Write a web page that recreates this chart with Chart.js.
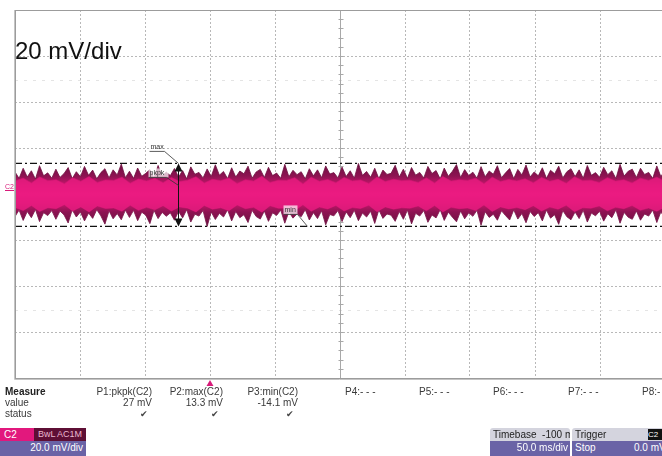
<!DOCTYPE html>
<html>
<head>
<meta charset="utf-8">
<script src="https://cdn.jsdelivr.net/npm/chart.js@4.4.1/dist/chart.umd.min.js"></script>
<style>
  html, body { margin: 0; padding: 0; background: #fff; overflow: hidden; }
  #wrap { position: relative; width: 662px; height: 456px; overflow: hidden; font-family: "Liberation Sans", Arial, sans-serif; }
  #scope { position: absolute; left: 0; top: 0; }
  .t { position: absolute; white-space: nowrap; color: #3a3a3a; font-size: 10px; line-height: 10px; }
  .box { position: absolute; font-size: 10px; line-height: 13px; white-space: nowrap; overflow: hidden; }
</style>
</head>
<body>
<div id="wrap">
  <canvas id="scope" width="680" height="456"></canvas>
  <div class="t" style="left:15px;top:39px;font-size:24px;line-height:24px;color:#111;">20 mV/div</div>
  <div class="t" style="left:5px;top:183px;font-size:7px;line-height:7px;color:#d81b7a;border-bottom:1px solid #d81b7a;">C2</div>
  <div id="table"></div>
</div>
<script>
// time axis (ms) and voltage axis (mV), 50 ms/div and 20 mV/div
const timeRange = [-150, 350];
const voltRange = [-80, 80];
const timeStep = 50;
const voltStep = 20;

// noise envelope of C2 (mV)
const upperEnv = [
  9.6, 6.8, 11.2, 7.4, 10.1, 6.5, 12.3, 7.9, 9.2, 6.9,
  10.8, 7.2, 8.9, 11.5, 6.7, 9.7, 7.5, 12.0, 8.1, 10.4,
  6.6, 9.3, 11.0, 7.0, 10.5, 8.3, 13.0, 7.1, 9.9, 6.8,
  11.3, 7.7, 9.0, 10.6, 6.9, 12.4, 7.8, 9.5, 8.0, 11.1,
  7.3, 10.2, 6.6, 11.8, 8.6, 9.4, 7.0, 10.9, 7.6, 12.7,
  8.2, 9.8, 6.7, 11.4, 7.4, 10.0, 8.8, 12.1, 6.9, 9.6,
  10.7, 7.2, 11.6, 8.0, 9.1, 6.8, 12.9, 7.5, 10.3, 8.4,
  9.7, 6.6, 11.0, 7.9, 10.5, 7.1, 12.2, 8.7, 9.3, 7.0,
  11.7, 7.6, 10.1, 6.9, 13.3, 8.1, 9.8, 7.3, 11.2, 6.7,
  10.4, 8.5, 9.0, 12.5, 7.4, 10.8, 6.8, 11.5, 8.2, 9.4,
  7.0, 12.0, 8.9, 10.2, 6.6, 11.3, 7.7, 9.9, 12.8, 7.2,
  10.6, 8.0, 9.5, 6.9, 11.9, 7.5, 10.0, 8.6, 12.3, 7.1,
  9.2, 11.1, 6.7, 10.7, 8.3, 12.6, 7.4, 9.6, 7.9, 11.4,
  6.8, 10.3, 8.8, 12.1, 7.0, 9.7, 11.0, 7.6, 10.5, 6.9,
  12.4, 8.1, 9.3, 7.3, 11.6, 8.4, 10.1, 6.7, 12.9, 7.8,
  9.9, 10.8, 7.2, 11.2, 8.5, 9.4, 6.8, 12.2, 7.5, 10.6
];
const lowerEnv = [
  -9.8, -7.0, -11.5, -7.6, -10.3, -6.7, -12.0, -8.1, -9.4, -7.2,
  -11.0, -7.4, -9.1, -12.6, -6.9, -10.0, -7.8, -11.7, -8.3, -10.6,
  -6.8, -9.5, -13.1, -7.3, -10.8, -8.5, -11.2, -7.0, -10.2, -7.1,
  -11.6, -7.9, -9.2, -12.9, -7.1, -10.7, -8.0, -9.7, -8.2, -11.4,
  -7.5, -10.4, -6.8, -12.2, -8.8, -9.6, -7.2, -14.1, -7.8, -11.1,
  -8.4, -10.0, -6.9, -11.7, -7.6, -10.3, -9.0, -12.4, -7.1, -9.8,
  -10.9, -7.4, -11.9, -8.2, -9.3, -7.0, -12.7, -7.7, -10.5, -8.6,
  -9.9, -6.8, -11.3, -8.1, -10.7, -7.3, -13.4, -8.9, -9.5, -7.2,
  -12.0, -7.8, -10.3, -7.1, -11.6, -8.3, -10.0, -7.5, -12.8, -6.9,
  -10.6, -8.7, -9.2, -11.9, -7.6, -11.0, -7.0, -13.0, -8.4, -9.6,
  -7.2, -12.3, -9.1, -10.4, -6.8, -11.5, -7.9, -10.1, -12.1, -7.4,
  -10.8, -8.2, -9.7, -7.1, -13.6, -7.7, -10.2, -8.8, -11.4, -7.3,
  -9.4, -11.3, -6.9, -10.9, -8.5, -12.5, -7.6, -9.8, -8.1, -11.7,
  -7.0, -10.5, -9.0, -13.2, -7.2, -9.9, -11.2, -7.8, -10.7, -7.1,
  -12.2, -8.3, -9.5, -7.5, -11.8, -8.6, -10.3, -6.9, -12.7, -8.0,
  -10.1, -11.0, -7.4, -11.4, -8.7, -9.6, -7.0, -12.4, -7.7, -10.8
];
// bright dense core of the trace (mV)
const innerUpper = [
  5.6, 6.9, 4.8, 7.4, 5.8, 6.2, 4.5, 7.1, 5.5, 7.6, 5.0, 6.1, 5.9, 7.3, 4.7, 6.5, 5.7, 6.8, 4.9, 7.2,
  5.4, 6.0, 7.5, 4.8, 6.4, 5.8, 7.0, 4.6, 6.2, 5.6, 7.7, 5.0, 6.0, 5.9, 7.1, 4.4, 7.3, 5.5, 6.3, 4.9,
  7.2, 5.7, 6.1, 4.6, 7.4, 5.4, 6.4, 5.8, 6.0, 5.0, 7.0, 4.8, 7.6, 5.6, 6.2, 5.9, 6.9, 4.5, 7.3, 5.4,
  6.3, 5.7, 6.6, 4.9, 7.2, 5.5, 6.4, 4.7, 7.5, 5.8, 6.0, 5.0, 7.1, 5.6, 6.2, 4.8, 6.9, 5.9, 7.3, 5.4
];
const innerLower = [
  -5.9, -7.2, -5.0, -7.6, -6.0, -6.4, -4.7, -7.4, -5.6, -7.8, -5.2, -6.3, -6.1, -7.5, -4.9, -7.1, -5.8, -6.9, -5.1, -7.4,
  -5.6, -6.2, -7.8, -5.0, -6.6, -6.0, -7.3, -4.8, -6.4, -5.8, -7.9, -5.1, -6.2, -6.1, -7.2, -4.7, -7.5, -5.7, -6.5, -5.0,
  -7.4, -5.9, -6.3, -4.9, -7.7, -5.6, -6.6, -6.0, -6.2, -5.2, -7.3, -5.0, -7.8, -5.8, -6.4, -6.1, -7.2, -4.8, -7.6, -5.6,
  -6.5, -5.9, -6.8, -5.1, -7.4, -5.7, -6.6, -4.9, -7.7, -6.0, -6.2, -5.2, -7.3, -5.8, -6.4, -5.0, -7.1, -6.1, -7.5, -5.6
];

// cursors and measurements
const maxMin = [13.3, -14.1];
const pkpkTime = -25;
const minMarkTime = 75;
const triggerTime = 0;
const measureNames = ['P1:pkpk(C2)', 'P2:max(C2)', 'P3:min(C2)', 'P4:- - -', 'P5:- - -', 'P6:- - -', 'P7:- - -', 'P8:- -'];
const measureValues = ['27 mV', '13.3 mV', '-14.1 mV'];

function spread(values) {
  // place samples evenly along the sweep
  const span = timeRange[1] - timeRange[0];
  return values.map((v, i) => ({ x: timeRange[0] + span * i / (values.length - 1), y: v }));
}

// dark fringes, bright centre
function traceGradient(context) {
  const chart = context.chart;
  if (!chart.chartArea) return '#b0145f';
  const y = chart.scales.y;
  const top = y.getPixelForValue(14);
  const bot = y.getPixelForValue(-14);
  const g = chart.ctx.createLinearGradient(0, top, 0, bot);
  g.addColorStop(0, '#6a0f3e');
  g.addColorStop(0.22, '#8d1352');
  g.addColorStop(0.36, '#c8166c');
  g.addColorStop(0.5, '#e8197f');
  g.addColorStop(0.64, '#c8166c');
  g.addColorStop(0.78, '#8d1352');
  g.addColorStop(1, '#6a0f3e');
  return g;
}

const scopePlugin = {
  id: 'scopeDecor',
  beforeDatasetsDraw(chart) {
    const { ctx, chartArea: a, scales: { x, y } } = chart;
    ctx.save();
    // faint ghost lines
    ctx.strokeStyle = '#e4e4e4';
    ctx.setLineDash([3, 6]);
    [50, -50].forEach(v => {
      const py = Math.round(y.getPixelForValue(v)) + 1.5;
      ctx.beginPath(); ctx.moveTo(a.left, py); ctx.lineTo(a.right, py); ctx.stroke();
    });
    // solid centre cross with minor ticks
    ctx.setLineDash([]);
    ctx.strokeStyle = '#a8a8a8';
    const cx = Math.round(x.getPixelForValue(100)) + 0.5;
    const cy = Math.round(y.getPixelForValue(0)) + 0.5;
    ctx.beginPath(); ctx.moveTo(cx, a.top); ctx.lineTo(cx, a.bottom); ctx.stroke();
    for (let v = voltRange[0]; v <= voltRange[1]; v += voltStep / 5) {
      const py = Math.round(y.getPixelForValue(v)) + 0.5;
      ctx.beginPath(); ctx.moveTo(cx - 2, py); ctx.lineTo(cx + 3, py); ctx.stroke();
    }
    for (let t = timeRange[0]; t <= timeRange[1]; t += timeStep / 5) {
      const px = Math.round(x.getPixelForValue(t)) + 0.5;
      ctx.beginPath(); ctx.moveTo(px, cy - 2); ctx.lineTo(px, cy + 3); ctx.stroke();
    }
    ctx.restore();
  },
  afterDatasetsDraw(chart) {
    const { ctx, chartArea: a, scales: { x, y } } = chart;
    ctx.save();
    // frame
    ctx.strokeStyle = '#9c9c9c';
    ctx.lineWidth = 1;
    ctx.strokeRect(a.left + 0.5, a.top + 0.5, a.right - a.left, a.bottom - a.top);
    ctx.strokeStyle = '#c4c4c4';
    ctx.beginPath(); ctx.moveTo(a.left - 0.5, a.top); ctx.lineTo(a.left - 0.5, a.bottom + 1.5); ctx.lineTo(a.right, a.bottom + 1.5); ctx.stroke();

    // pkpk cursor with arrows
    const px = Math.round(x.getPixelForValue(pkpkTime)) + 0.5;
    const yTop = y.getPixelForValue(maxMin[0]);
    const yBot = y.getPixelForValue(maxMin[1]);
    ctx.strokeStyle = '#111';
    ctx.fillStyle = '#111';
    ctx.beginPath(); ctx.moveTo(px, yTop + 4); ctx.lineTo(px, yBot - 4); ctx.stroke();
    ctx.beginPath(); ctx.moveTo(px, yTop); ctx.lineTo(px - 4, yTop + 8); ctx.lineTo(px + 4, yTop + 8); ctx.closePath(); ctx.fill();
    ctx.beginPath(); ctx.moveTo(px, yBot); ctx.lineTo(px - 4, yBot - 8); ctx.lineTo(px + 4, yBot - 8); ctx.closePath(); ctx.fill();

    ctx.font = '7px "Liberation Sans", Arial, sans-serif';
    ctx.textBaseline = 'alphabetic';
    ctx.lineWidth = 0.8;
    // max label
    ctx.fillStyle = '#333';
    ctx.fillText('max', px - 28, yTop - 14);
    ctx.strokeStyle = '#333';
    ctx.beginPath(); ctx.moveTo(px - 29, yTop - 12); ctx.lineTo(px - 14, yTop - 12); ctx.lineTo(px, yTop); ctx.stroke();
    // pkpk label
    ctx.fillStyle = 'rgba(255,255,255,0.7)';
    ctx.fillRect(px - 30, yTop + 5, 20, 9);
    ctx.fillStyle = '#333';
    ctx.fillText('pkpk', px - 29, yTop + 12);
    ctx.beginPath(); ctx.moveTo(px - 30, yTop + 14); ctx.lineTo(px - 12, yTop + 14); ctx.lineTo(px, yTop + 22); ctx.stroke();
    // min label
    const mx = x.getPixelForValue(minMarkTime);
    ctx.fillStyle = 'rgba(255,255,255,0.7)';
    ctx.fillRect(mx - 24, yBot - 21, 14, 9);
    ctx.fillStyle = '#333';
    ctx.fillText('min', mx - 23, yBot - 14);
    ctx.beginPath(); ctx.moveTo(mx - 24, yBot - 12); ctx.lineTo(mx - 10, yBot - 12); ctx.lineTo(mx, yBot); ctx.stroke();

    // trigger marker
    const tx = x.getPixelForValue(triggerTime);
    ctx.fillStyle = '#d81b7a';
    ctx.beginPath(); ctx.moveTo(tx, a.bottom + 2); ctx.lineTo(tx - 3.5, a.bottom + 8); ctx.lineTo(tx + 3.5, a.bottom + 8); ctx.closePath(); ctx.fill();
    ctx.restore();
  }
};

const ctx = document.getElementById('scope').getContext('2d');
new Chart(ctx, {
  type: 'line',
  data: {
    datasets: [
      { data: spread(upperEnv), borderColor: '#6e0f40', backgroundColor: traceGradient, borderWidth: 0.8, fill: '+1', order: 3 },
      { data: spread(lowerEnv), borderColor: '#6e0f40', borderWidth: 0.8, fill: false, order: 3 },
      { data: spread(innerUpper), borderColor: 'rgba(214,22,116,0.6)', backgroundColor: 'rgba(236,27,130,0.8)', borderWidth: 1, fill: '+1', order: 2 },
      { data: spread(innerLower), borderColor: 'rgba(214,22,116,0.6)', borderWidth: 1, fill: false, order: 2 },
      { data: timeRange.map(t => ({ x: t, y: maxMin[0] })), borderColor: '#111', borderWidth: 1.3, borderDash: [7, 3, 2, 3], fill: false, order: 1 },
      { data: timeRange.map(t => ({ x: t, y: maxMin[1] })), borderColor: '#111', borderWidth: 1.3, borderDash: [7, 3, 2, 3], fill: false, order: 1 }
    ]
  },
  options: {
    responsive: false,
    animation: false,
    layout: { padding: { left: 15, right: 15, top: 10, bottom: 78 } },
    elements: { point: { radius: 0 }, line: { tension: 0 } },
    plugins: { legend: { display: false }, tooltip: { enabled: false } },
    scales: {
      x: {
        type: 'linear', min: timeRange[0], max: timeRange[1],
        ticks: { display: false, stepSize: timeStep },
        grid: { color: '#b8b8b8', drawTicks: false },
        border: { display: false, dash: [2, 2] }
      },
      y: {
        type: 'linear', min: voltRange[0], max: voltRange[1],
        ticks: { display: false, stepSize: voltStep },
        grid: { color: '#b8b8b8', drawTicks: false },
        border: { display: false, dash: [2, 2] }
      }
    }
  },
  plugins: [scopePlugin]
});

// measurement table under the grid
const table = document.getElementById('table');
function addText(txt, left, top, style) {
  const d = document.createElement('div');
  d.className = 't';
  d.textContent = txt;
  d.style.left = left + 'px';
  d.style.top = top + 'px';
  if (style) Object.assign(d.style, style);
  table.appendChild(d);
  return d;
}
addText('Measure', 5, 387, { fontWeight: 'bold', color: '#222' });
addText('value', 5, 398);
addText('status', 5, 409);
const colRight = [152, 223, 298, 375, 449, 523, 598, 672];
measureNames.forEach((name, i) => {
  const d = addText(name, colRight[i] - 70, 387, { width: '70px', textAlign: i < 3 ? 'right' : 'left' });
  if (i >= 3) { d.style.left = (colRight[i] - 30) + 'px'; d.style.width = 'auto'; }
});
measureValues.forEach((v, i) => {
  addText(v, colRight[i] - 70, 398, { width: '70px', textAlign: 'right' });
  addText('\u2714', colRight[i] - 12, 409, { color: '#444', fontSize: '9px' });
});

// channel and timebase boxes
table.insertAdjacentHTML('beforeend',
  '<div class="box" style="left:0;top:428px;width:86px;height:13px;background:#e2187d;color:#fff;"><span style="padding-left:4px;">C2</span>' +
  '<span style="position:absolute;left:34px;top:0;width:52px;height:13px;background:#5e0f35;color:#e9b7cf;text-align:center;font-size:9px;">BwL AC1M</span></div>' +
  '<div class="box" style="left:0;top:441px;width:86px;height:15px;background:#6a63a6;color:#fff;text-align:right;"><span style="padding-right:3px;">20.0 mV/div</span></div>' +
  '<div class="box" style="left:490px;top:428px;width:80px;height:13px;background:#d4d4de;color:#222;border-radius:3px 3px 0 0;padding-left:3px;box-sizing:border-box;">Timebase &nbsp;-100 ms</div>' +
  '<div class="box" style="left:490px;top:441px;width:80px;height:15px;background:#6a63a6;color:#fff;text-align:right;padding-right:2px;box-sizing:border-box;">50.0 ms/div</div>' +
  '<div class="box" style="left:572px;top:428px;width:92px;height:13px;background:#d4d4de;color:#222;border-radius:3px 3px 0 0;padding-left:3px;box-sizing:border-box;">Trigger' +
  '<span style="position:absolute;left:76px;top:1px;width:14px;height:11px;background:#111;color:#fff;font-size:8px;line-height:11px;">C2</span></div>' +
  '<div class="box" style="left:572px;top:441px;width:92px;height:15px;background:#6a63a6;color:#fff;padding-left:3px;box-sizing:border-box;">Stop<span style="position:absolute;left:62px;">0.0 mV</span></div>'
);
</script>
</body>
</html>
